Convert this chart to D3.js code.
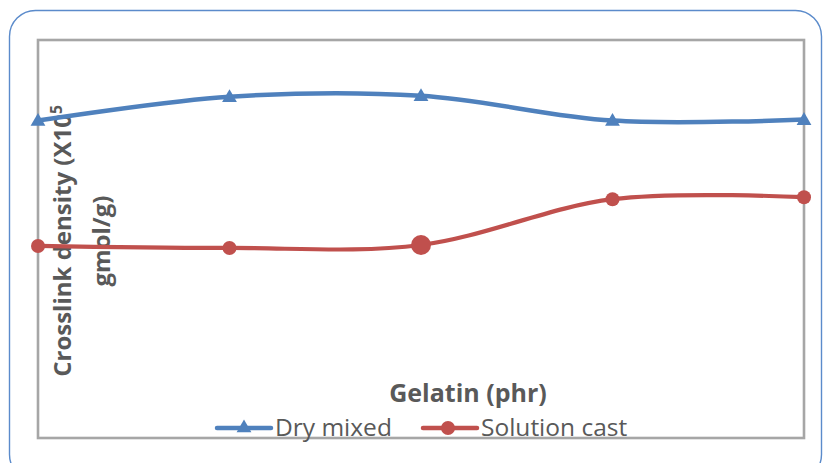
<!DOCTYPE html>
<html>
<head>
<meta charset="utf-8">
<script src="https://cdn.jsdelivr.net/npm/d3@7"></script>
<style>
  html, body { margin: 0; padding: 0; background: #ffffff; }
  svg { display: block; }
</style>
</head>
<body>
<script>
// Gelatin loading (phr) and crosslink density for the two processing routes
const categories = ["0", "5", "10", "15", "20"];
const dryMixed = [3.19, 3.43, 3.44, 3.19, 3.20];
const solutionCast = [1.93, 1.91, 1.94, 2.40, 2.42];
const seriesNames = ["Dry mixed", "Solution cast"];
const yDomain = [0, 4];

const W = 823, H = 463;
const plot = { left: 38, top: 40, right: 804, bottom: 438 };
const blue = "#4f81bd", red = "#c0504d", textGray = "#595959";
const font = "'Open Sans', Lato, sans-serif";

const svg = d3.select("body").append("svg")
  .attr("width", W).attr("height", H);

// outer chart frame
svg.append("rect")
  .attr("x", 9.5).attr("y", 10.5)
  .attr("width", 812).attr("height", 470)
  .attr("rx", 26).attr("ry", 26)
  .attr("fill", "#ffffff")
  .attr("stroke", "#5b8bcb").attr("stroke-width", 1.4);

const x = d3.scalePoint().domain(categories).range([plot.left, plot.right]);
const y = d3.scaleLinear().domain(yDomain).range([plot.bottom, plot.top]);

// plot area border
svg.append("rect")
  .attr("x", plot.left).attr("y", plot.top)
  .attr("width", plot.right - plot.left).attr("height", plot.bottom - plot.top)
  .attr("fill", "none").attr("stroke", "#a6a6a6").attr("stroke-width", 2.6);

const line = d3.line()
  .x((d, i) => x(categories[i]))
  .y(d => y(d))
  .curve(d3.curveCatmullRom.alpha(0));

// axis titles (drawn before the series so the lines sit on top)
svg.append("text")
  .attr("x", 468).attr("y", 402)
  .attr("text-anchor", "middle")
  .attr("font-family", font).attr("font-weight", "bold")
  .attr("font-size", 25).attr("fill", textGray)
  .text("Gelatin (phr)");

const yTitle = svg.append("text")
  .attr("transform", "translate(0,241) rotate(-90)")
  .attr("text-anchor", "middle")
  .attr("font-family", font).attr("font-weight", "bold")
  .attr("font-size", 24).attr("fill", textGray);
const l1 = yTitle.append("tspan").attr("x", 0).attr("y", 71);
l1.append("tspan").text("Crosslink density (X10");
l1.append("tspan").attr("dy", -9).attr("font-size", 15.5).text("5");
yTitle.append("tspan").attr("x", 0).attr("y", 110).text("gmol/g)");

// series lines
svg.append("path").datum(dryMixed)
  .attr("d", line).attr("fill", "none")
  .attr("stroke", blue).attr("stroke-width", 4.5).attr("stroke-linecap", "round");
svg.append("path").datum(solutionCast)
  .attr("d", line).attr("fill", "none")
  .attr("stroke", red).attr("stroke-width", 4.2).attr("stroke-linecap", "round");

const tri = d3.symbol().type(d3.symbolTriangle).size(95);

svg.append("g").selectAll("path").data(dryMixed).join("path")
  .attr("transform", (d, i) => `translate(${x(categories[i])},${y(d) + 1})`)
  .attr("d", tri).attr("fill", blue);

const highlighted = 2;
svg.append("g").selectAll("circle").data(solutionCast).join("circle")
  .attr("cx", (d, i) => x(categories[i]))
  .attr("cy", d => y(d))
  .attr("r", (d, i) => i === highlighted ? 10 : 7)
  .attr("fill", red);

// legend
const legend = svg.append("g").attr("font-family", font).attr("font-size", 24.5).attr("fill", textGray);
const items = [
  { name: seriesNames[0], color: blue, x0: 217, mark: "tri" },
  { name: seriesNames[1], color: red, x0: 423, mark: "dot" }
];
items.forEach(it => {
  const g = legend.append("g").attr("transform", `translate(${it.x0},428)`);
  g.append("line").attr("x1", 0).attr("x2", 54).attr("y1", 0).attr("y2", 0)
    .attr("stroke", it.color).attr("stroke-width", 4.5).attr("stroke-linecap", "round");
  if (it.mark === "tri") {
    g.append("path").attr("d", tri).attr("transform", "translate(27,0)").attr("fill", it.color);
  } else {
    g.append("circle").attr("cx", 25).attr("cy", 0).attr("r", 7).attr("fill", it.color);
  }
  g.append("text").attr("x", 58).attr("y", 7.5).text(it.name);
});
</script>
</body>
</html>
